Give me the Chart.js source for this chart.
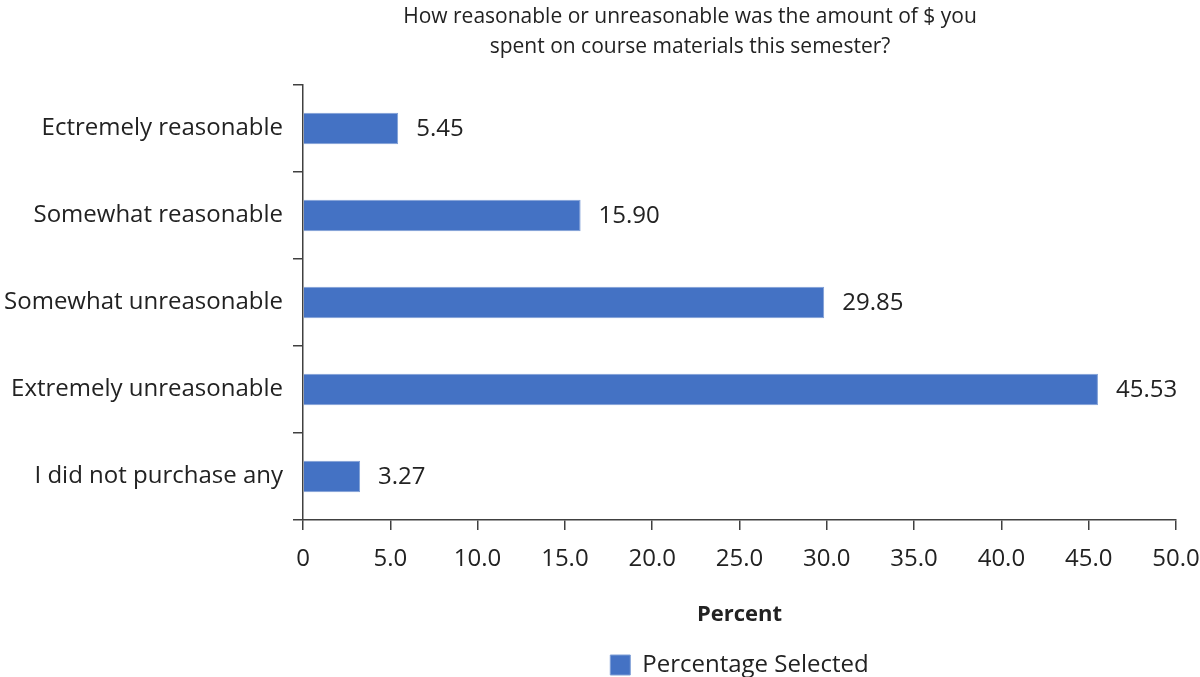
<!DOCTYPE html>
<html>
<head>
<meta charset="utf-8">
<script src="https://cdn.jsdelivr.net/npm/chart.js@4.4.1/dist/chart.umd.min.js"></script>
<style>
html,body{margin:0;padding:0;background:#fff;}
#wrap{position:relative;width:1200px;height:677px;}
</style>
</head>
<body>
<div id="wrap"><canvas id="c" width="1200" height="677"></canvas></div>
<script>
const categories = ["Ectremely reasonable","Somewhat reasonable","Somewhat unreasonable","Extremely unreasonable","I did not purchase any"];
const values = [5.45, 15.90, 29.85, 45.53, 3.27];
const valueLabels = ["5.45","15.90","29.85","45.53","3.27"];
const titleLines = ["How reasonable or unreasonable was the amount of $ you","spent on course materials this semester?"];
const seriesName = "Percentage Selected";
const axisTitle = "Percent";

const FONT = "'Open Sans'";
const TXT = "#222222";

const titlePlugin = {
  id:'titlePlugin',
  afterDraw(chart){
    const ctx=chart.ctx; const a=chart.chartArea;
    ctx.save();
    ctx.font="21px "+FONT; ctx.fillStyle=TXT; ctx.textAlign='center'; ctx.textBaseline='middle';
    const cx=a.left+387;
    ctx.fillText(titleLines[0],cx,17);
    ctx.fillText(titleLines[1],cx,47);
    ctx.restore();
  }
};
const valuePlugin = {
  id:'valuePlugin',
  afterDatasetsDraw(chart){
    const ctx=chart.ctx; const meta=chart.getDatasetMeta(0);
    ctx.save();
    ctx.font="24px "+FONT; ctx.fillStyle=TXT; ctx.textAlign='left'; ctx.textBaseline='middle';
    meta.data.forEach((bar,i)=>{ ctx.fillText(valueLabels[i], bar.x+18, bar.y+1); });
    ctx.restore();
  }
};

new Chart(document.getElementById('c'),{
  type:'bar',
  data:{labels:categories,datasets:[{label:seriesName,data:values,backgroundColor:'#4472C4',borderColor:'#7f9fd6',borderWidth:1,barPercentage:0.36,categoryPercentage:1}]},
  options:{
    indexAxis:'y',responsive:false,animation:false,devicePixelRatio:1,
    layout:{padding:{top:85,right:0,left:0,bottom:-10}},
    plugins:{
      legend:{position:'bottom',fullSize:false,labels:{font:{family:FONT,size:24},color:TXT,boxWidth:20,boxHeight:20,padding:4}},
      tooltip:{enabled:false},title:{display:false}
    },
    scales:{
      x:{type:'linear',min:0,max:50,
        ticks:{stepSize:5,font:{family:FONT,size:24},color:TXT,padding:15,callback:v=>v===0?'0':v.toFixed(1)},
        grid:{drawOnChartArea:false,drawTicks:true,tickLength:10,color:'#404040',lineWidth:1.5},
        border:{color:'#404040',width:1.5},
        title:{display:true,text:axisTitle,font:{family:FONT,size:22,weight:'bold'},color:TXT,padding:{top:0,bottom:21}},
        afterFit(s){s.height=129;s.paddingLeft=0;s.paddingRight=24;}
      },
      y:{
        ticks:{font:{family:FONT,size:24},color:TXT,padding:10},
        grid:{drawOnChartArea:false,drawTicks:true,tickLength:10,color:'#404040',lineWidth:1.5,offset:true},
        border:{color:'#404040',width:1.5},
        afterFit(s){s.width=303;s.paddingTop=0;s.paddingBottom=0;}
      }
    }
  },
  plugins:[titlePlugin,valuePlugin]
});
</script>
</body>
</html>
